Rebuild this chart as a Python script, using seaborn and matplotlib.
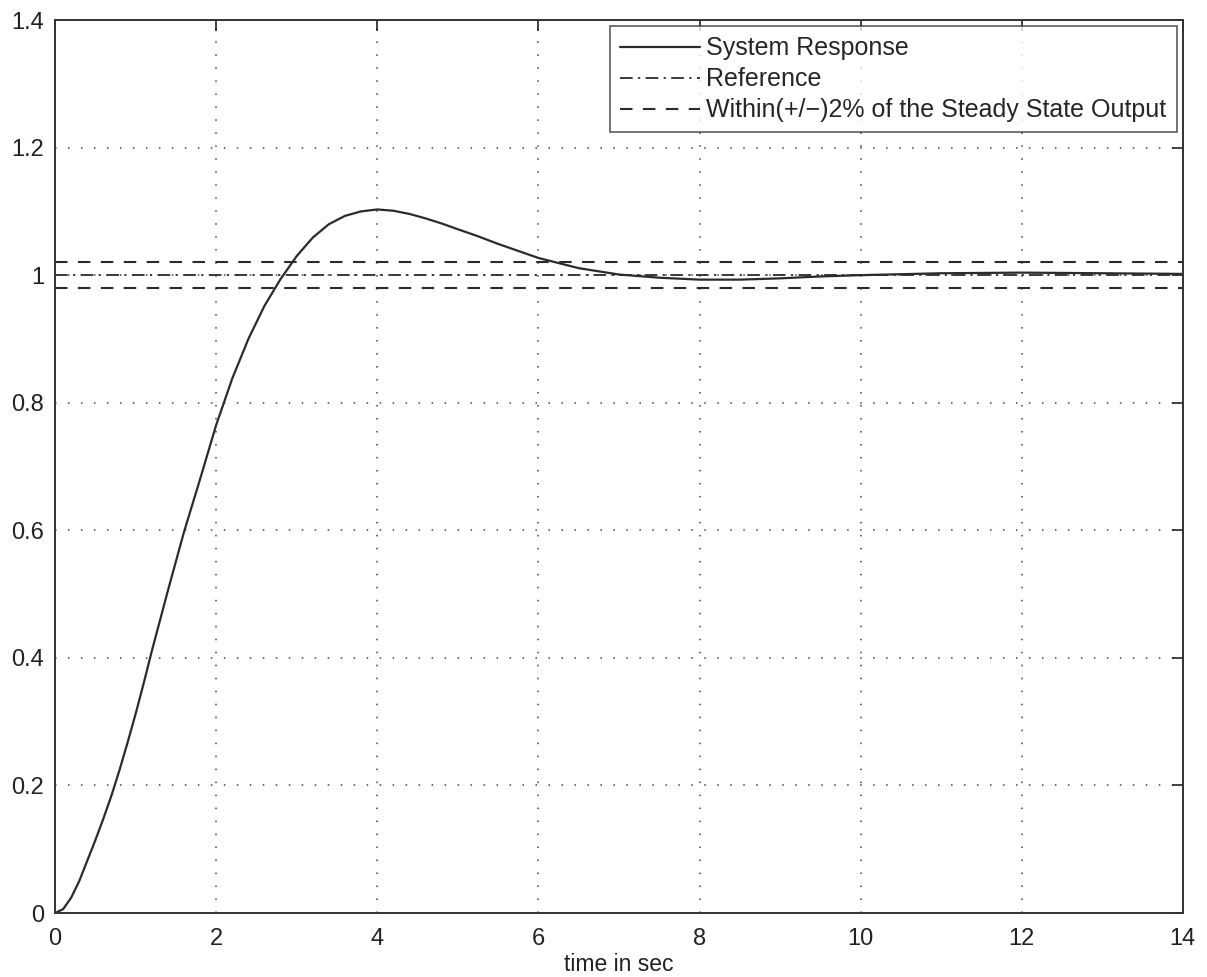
import numpy as np
import pandas as pd
import matplotlib
matplotlib.use("Agg")
import matplotlib.pyplot as plt
import seaborn as sns

time_s = [0.0, 0.1, 0.2, 0.3, 0.4, 0.5, 0.6, 0.7, 0.8, 0.9, 1.0, 1.1, 1.2, 1.4, 1.6, 1.8,
          2.0, 2.2, 2.4, 2.6, 2.8, 3.0, 3.2, 3.4, 3.6, 3.8, 4.0, 4.2, 4.4, 4.6, 4.8,
          5.0, 5.25, 5.5, 5.75, 6.0, 6.5, 7.0, 7.5, 8.0, 8.5, 9.0, 9.5, 10.0,
          11.0, 12.0, 13.0, 14.0]
response = [0.0, 0.006, 0.024, 0.05, 0.082, 0.114, 0.148, 0.184, 0.224, 0.267, 0.312,
            0.36, 0.41, 0.505, 0.597, 0.68, 0.765, 0.838, 0.9, 0.952, 0.994, 1.03, 1.059,
            1.08, 1.093, 1.1, 1.103, 1.101, 1.096, 1.089, 1.081, 1.072, 1.061, 1.049,
            1.038, 1.027, 1.011, 1.001, 0.996, 0.993, 0.993, 0.995, 0.998, 1.0,
            1.003, 1.004, 1.003, 1.002]
ref_level = 1.0
band_levels = [0.98, 1.02]

x_ticks = [0, 2, 4, 6, 8, 10, 12, 14]
y_ticks = [0, 0.2, 0.4, 0.6, 0.8, 1.0, 1.2, 1.4]
y_tick_labels = ["0", "0.2", "0.4", "0.6", "0.8", "1", "1.2", "1.4"]

df = pd.DataFrame({"t": time_s, "y": response})

sns.set_style("white")
plt.rcParams["font.family"] = ["Liberation Sans", "DejaVu Sans"]

fig = plt.figure(figsize=(12.07, 9.77), dpi=100)
ax = fig.add_axes([0.0456, 0.0655, 0.9344, 0.914])

line_col = "#2b2b2b"
sns.lineplot(data=df, x="t", y="y", ax=ax, color=line_col, linewidth=1.6,
             label="System Response")
ax.axhline(ref_level, color=line_col, linewidth=1.3, linestyle=(0, (7, 3, 1.2, 3)),
           label="Reference")
ax.axhline(band_levels[1], color=line_col, linewidth=1.5, linestyle=(0, (6, 5)),
           label="Within(+/\u2212)2% of the Steady State Output")
ax.axhline(band_levels[0], color=line_col, linewidth=1.5, linestyle=(0, (6, 5)))

ax.set_xlim(0, 14)
ax.set_ylim(0, 1.4)
ax.set_xticks(x_ticks)
ax.set_yticks(y_ticks)
ax.set_yticklabels(y_tick_labels)
ax.grid(True, color="#444444", linestyle=(0, (1, 7.5)), linewidth=1.1)
ax.tick_params(direction="in", length=8, width=1.2, labelsize=17, colors="#222222",
               top=True, right=True)
ax.tick_params(axis="x", pad=11)
ax.tick_params(axis="y", pad=8)
for s in ax.spines.values():
    s.set_color("#333333")
    s.set_linewidth(1.4)

ax.set_xlabel("time in sec", fontsize=16.5, color="#222222", labelpad=2)
ax.set_ylabel("")

leg = ax.legend(loc="upper right", fontsize=18, frameon=True, fancybox=False,
                handlelength=3.2, handletextpad=0.25, borderpad=0.4,
                labelspacing=0.28, borderaxespad=0.25)
leg.get_frame().set_edgecolor("#333333")
leg.get_frame().set_linewidth(1.2)

fig.savefig("out.png", dpi=100)
